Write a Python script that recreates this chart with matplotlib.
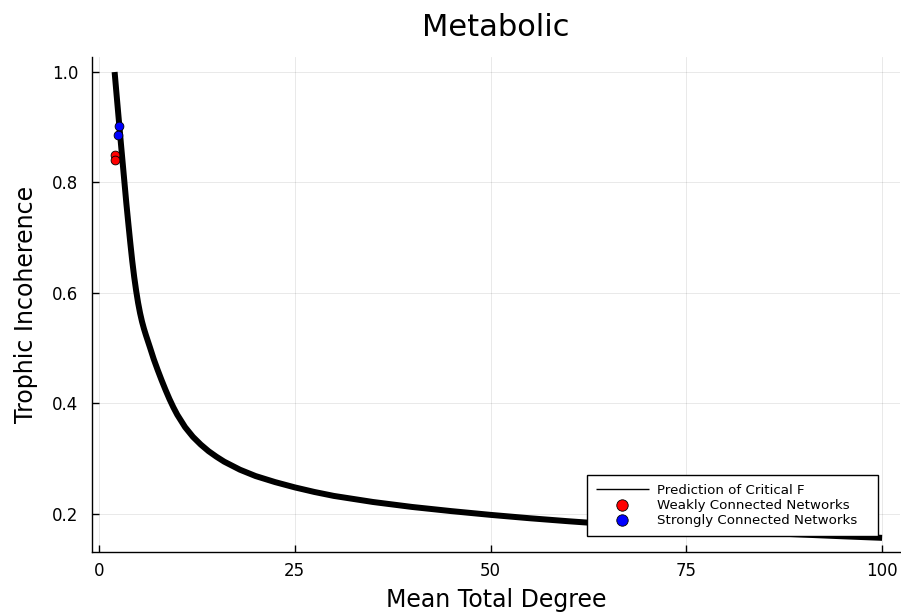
import matplotlib
matplotlib.use('Agg')
import matplotlib.pyplot as plt

# Critical F prediction
mean_degree = [2.0, 2.25, 2.5, 2.75, 3.0, 3.25, 3.5, 3.75, 4.0, 4.25, 4.5, 4.75, 5.0, 5.25, 5.5, 5.75,
               6.0, 6.5, 7.0, 7.5, 8.0, 8.5, 9.0, 9.5, 10.0, 11.0, 12.0, 13.0, 14.0, 15.0, 16.0, 18.0,
               20.0, 22.5, 25.0, 27.5, 30.0, 35.0, 40.0, 45.0, 50.0, 55.0, 60.0, 65.0, 70.0, 75.0,
               80.0, 85.0, 90.0, 95.0, 100.0]
critical_f = [1.0, 0.959, 0.919, 0.879, 0.840, 0.801, 0.762, 0.726, 0.691, 0.658, 0.629, 0.604,
              0.582, 0.5635, 0.548, 0.535, 0.5235, 0.502, 0.480, 0.4605, 0.442, 0.4245, 0.408, 0.393,
              0.3795, 0.357, 0.3395, 0.3255, 0.3135, 0.3035, 0.2945, 0.280, 0.2685, 0.2575, 0.248,
              0.2397, 0.2325, 0.2215, 0.2125, 0.205, 0.1982, 0.1921, 0.1866, 0.1816, 0.1771, 0.173,
              0.1692, 0.1657, 0.1624, 0.1594, 0.1566]

# Networks
weak_degree = [2.05, 2.0]
weak_incoherence = [0.850, 0.841]
strong_degree = [2.5, 2.4]
strong_incoherence = [0.902, 0.886]

x_ticks = [0, 25, 50, 75, 100]
y_ticks = [0.2, 0.4, 0.6, 0.8, 1.0]


def main():
    plt.rcParams['font.family'] = ['DejaVu Sans']

    fig = plt.figure(figsize=(9.01, 6.14), dpi=100)
    ax = fig.add_axes([0.102, 0.101, 0.897, 0.806])

    ax.plot(mean_degree, critical_f, color='black', linewidth=4.3, label='Prediction of Critical F',
            solid_capstyle='butt', solid_joinstyle='round', zorder=3)
    ax.scatter(weak_degree, weak_incoherence, s=40, color='red', edgecolors='black', linewidths=0.6,
               label='Weakly Connected Networks', zorder=4)
    ax.scatter(strong_degree, strong_incoherence, s=40, color='blue', edgecolors='black', linewidths=0.6,
               label='Strongly Connected Networks', zorder=4)

    ax.set_xlim(-0.9, 102.3)
    ax.set_ylim(0.131, 1.027)
    ax.set_xticks(x_ticks)
    ax.set_yticks(y_ticks)
    ax.set_yticklabels(['%.1f' % v for v in y_ticks])

    ax.grid(True, color='black', alpha=0.1, linewidth=0.6)
    ax.spines['top'].set_visible(False)
    ax.spines['right'].set_visible(False)
    ax.spines['left'].set_linewidth(1.0)
    ax.spines['bottom'].set_linewidth(1.0)
    ax.tick_params(direction='in', length=5, width=1, labelsize=12)
    ax.tick_params(axis='y', pad=10)
    ax.tick_params(axis='x', pad=7)

    ax.set_title('Metabolic', fontsize=22, pad=15)
    ax.set_xlabel('Mean Total Degree', fontsize=17, labelpad=6)
    ax.set_ylabel('Trophic Incoherence', fontsize=17, labelpad=10)

    # expand mode gives the wide box with room on the right, like the reference
    leg = ax.legend(loc='lower left', bbox_to_anchor=(0.6126, 0.033, 0.360, 0.0), mode='expand',
                    borderaxespad=0, fontsize=9.6, fancybox=False, framealpha=1, edgecolor='black',
                    handlelength=4, handletextpad=0.6, labelspacing=0.15, markerscale=1.3,
                    borderpad=0.65)
    leg.get_frame().set_linewidth(1.0)
    leg.get_lines()[0].set_linewidth(1.0)

    fig.savefig('out.png', dpi=100)


if __name__ == '__main__':
    main()
